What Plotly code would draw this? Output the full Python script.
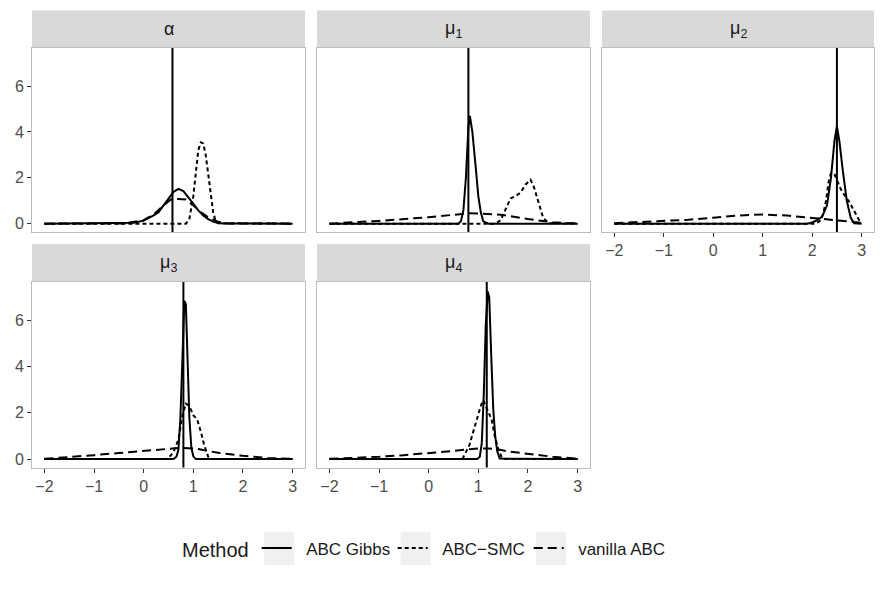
import plotly.graph_objects as go

# ---------------- data ----------------
PANEL_LABELS = ["α", "μ<sub>1</sub>", "μ<sub>2</sub>", "μ<sub>3</sub>", "μ<sub>4</sub>"]
TRUE_VALUES = [0.58, 0.8, 2.5, 0.8, 1.17]
METHODS = ["ABC Gibbs", "ABC\u2212SMC", "vanilla ABC"]
X_TICKS = [-2, -1, 0, 1, 2, 3]
Y_TICKS = [0, 2, 4, 6]

# alpha
alpha_gibbs_x = [-2, -0.4, -0.2, 0.0, 0.1, 0.2, 0.3, 0.4, 0.5, 0.6, 0.7, 0.8, 0.9, 1.0, 1.1, 1.2, 1.3, 1.4, 1.5, 1.6, 3]
alpha_gibbs_y = [0, 0.01, 0.04, 0.13, 0.24, 0.36, 0.5, 0.8, 1.1, 1.38, 1.52, 1.42, 1.15, 0.85, 0.58, 0.36, 0.2, 0.09, 0.03, 0.01, 0]
alpha_smc_x = [-2, 0.85, 0.92, 1.0, 1.05, 1.1, 1.15, 1.2, 1.25, 1.3, 1.35, 1.4, 1.45, 1.5, 3]
alpha_smc_y = [0, 0, 0.2, 1.2, 2.2, 3.2, 3.55, 3.5, 3.0, 2.2, 1.3, 0.5, 0.1, 0.02, 0]
alpha_van_x = [-2, -0.4, 0.0, 0.2, 0.4, 0.55, 0.7, 0.85, 1.0, 1.15, 1.3, 1.5, 1.7, 3]
alpha_van_y = [0, 0.01, 0.15, 0.4, 0.8, 1.05, 1.08, 1.05, 0.8, 0.5, 0.28, 0.08, 0.01, 0]

# mu1
mu1_gibbs_x = [-2, 0.6, 0.65, 0.7, 0.75, 0.8, 0.83, 0.88, 0.95, 1.0, 1.05, 1.1, 1.2, 3]
mu1_gibbs_y = [0, 0, 0.1, 0.6, 2.0, 4.2, 4.7, 4.0, 2.4, 1.2, 0.5, 0.1, 0, 0]
mu1_smc_x = [-2, 1.35, 1.45, 1.55, 1.65, 1.75, 1.85, 1.95, 2.05, 2.12, 2.2, 2.3, 2.4, 3]
mu1_smc_y = [0, 0, 0.15, 0.6, 1.1, 1.2, 1.35, 1.7, 1.92, 1.6, 1.0, 0.3, 0.02, 0]
mu1_van_x = [-2, -1, 0, 0.6, 0.8, 1.0, 1.5, 2.0, 2.5, 3]
mu1_van_y = [0, 0.12, 0.28, 0.42, 0.45, 0.44, 0.38, 0.2, 0.06, 0.01]

# mu2
mu2_gibbs_x = [-2, 1.9, 2.0, 2.1, 2.2, 2.3, 2.38, 2.45, 2.5, 2.55, 2.62, 2.7, 2.78, 2.85, 3]
mu2_gibbs_y = [0, 0, 0.05, 0.15, 0.3, 0.8, 2.0, 3.6, 4.25, 3.6, 2.3, 1.0, 0.25, 0.02, 0]
mu2_smc_x = [-2, 2.05, 2.15, 2.22, 2.28, 2.33, 2.38, 2.45, 2.5, 2.58, 2.65, 2.75, 2.85, 2.95, 3.0]
mu2_smc_y = [0, 0, 0.1, 0.4, 1.0, 1.8, 2.2, 2.15, 1.9, 1.5, 1.25, 0.95, 0.55, 0.15, 0.05]
mu2_van_x = [-2, -1.5, -1, -0.5, 0, 0.5, 1.0, 1.5, 2.0, 2.5, 3]
mu2_van_y = [0.02, 0.06, 0.1, 0.17, 0.26, 0.35, 0.4, 0.35, 0.25, 0.13, 0.04]

# mu3
mu3_gibbs_x = [-2, 0.6, 0.66, 0.7, 0.74, 0.78, 0.82, 0.85, 0.88, 0.92, 0.96, 1.0, 1.05, 3]
mu3_gibbs_y = [0, 0, 0.1, 0.4, 1.8, 4.5, 6.85, 6.7, 4.5, 1.8, 0.5, 0.12, 0, 0]
mu3_smc_x = [-2, 0.45, 0.52, 0.6, 0.7, 0.78, 0.85, 0.92, 1.0, 1.08, 1.15, 1.22, 1.3, 1.38, 3]
mu3_smc_y = [0, 0, 0.1, 0.3, 0.85, 1.9, 2.4, 2.3, 1.9, 1.7, 1.2, 0.6, 0.1, 0, 0]
mu3_van_x = [-2, -1.5, -1, -0.5, 0, 0.5, 0.7, 0.9, 1.1, 1.3, 1.5, 2.0, 2.5, 3]
mu3_van_y = [0.01, 0.08, 0.17, 0.26, 0.34, 0.42, 0.48, 0.47, 0.44, 0.35, 0.27, 0.14, 0.05, 0.01]

# mu4
mu4_gibbs_x = [-2, 0.98, 1.03, 1.07, 1.11, 1.15, 1.19, 1.22, 1.26, 1.3, 1.34, 1.38, 1.43, 3]
mu4_gibbs_y = [0, 0, 0.1, 0.7, 2.8, 5.8, 7.25, 7.0, 4.5, 2.2, 1.0, 0.35, 0.02, 0]
mu4_smc_x = [-2, 0.68, 0.75, 0.82, 0.9, 0.98, 1.05, 1.1, 1.15, 1.2, 1.27, 1.33, 1.4, 1.47, 1.55, 3]
mu4_smc_y = [0, 0, 0.3, 0.6, 1.2, 1.8, 2.3, 2.55, 2.3, 2.0, 1.7, 1.0, 0.45, 0.08, 0, 0]
mu4_van_x = [-2, -1.5, -1, -0.5, 0, 0.5, 0.8, 1.0, 1.2, 1.4, 1.6, 2.0, 2.5, 3]
mu4_van_y = [0.01, 0.05, 0.1, 0.17, 0.25, 0.35, 0.42, 0.46, 0.46, 0.42, 0.33, 0.23, 0.1, 0.02]

PANEL_DATA = [
    [(alpha_gibbs_x, alpha_gibbs_y), (alpha_smc_x, alpha_smc_y), (alpha_van_x, alpha_van_y)],
    [(mu1_gibbs_x, mu1_gibbs_y), (mu1_smc_x, mu1_smc_y), (mu1_van_x, mu1_van_y)],
    [(mu2_gibbs_x, mu2_gibbs_y), (mu2_smc_x, mu2_smc_y), (mu2_van_x, mu2_van_y)],
    [(mu3_gibbs_x, mu3_gibbs_y), (mu3_smc_x, mu3_smc_y), (mu3_van_x, mu3_van_y)],
    [(mu4_gibbs_x, mu4_gibbs_y), (mu4_smc_x, mu4_smc_y), (mu4_van_x, mu4_van_y)],
]

# ---------------- styling / layout ----------------
W, H = 886, 590
DASHES = ["solid", "4px,3px", "9px,5px"]
FONT = "Liberation Sans, Arial, Helvetica, sans-serif"
BORDER = "#bdbdbd"
STRIP = "#d9d9d9"
KEY_BG = "#f0f0f0"

col_px = [(32, 305), (317, 590), (602, 874)]
row_plot_px = [(48, 232), (282, 467.5)]
row_strip_px = [(10.5, 48), (244, 282)]
panel_pos = [(0, 0), (0, 1), (0, 2), (1, 0), (1, 1)]
key_left_px = [264.3, 400.7, 536.0]
key_tb_px = (531.7, 565.0)

fig = go.Figure()
layout = dict(
    width=W, height=H, margin=dict(l=0, r=0, t=0, b=0),
    paper_bgcolor="white", plot_bgcolor="white",
    font=dict(family=FONT, color="#1a1a1a"),
    showlegend=True,
    shapes=[], annotations=[],
)

for i, (r, c) in enumerate(panel_pos):
    n = i + 1
    xa = "x" if n == 1 else f"x{n}"
    ya = "y" if n == 1 else f"y{n}"
    x0, x1 = col_px[c]
    t, b = row_plot_px[r]
    show_x = (n in (3, 4, 5))
    show_y = (c == 0)
    layout[f"xaxis{'' if n == 1 else n}"] = dict(
        domain=[x0 / W, x1 / W], anchor=ya, range=[-2.25, 3.25],
        tickvals=X_TICKS, showticklabels=show_x, ticks="outside" if show_x else "",
        ticklen=4, tickwidth=1, tickcolor="#333333",
        tickfont=dict(size=16, color="#4d4d4d", family=FONT),
        showgrid=False, zeroline=False, showline=True, mirror=True,
        linecolor=BORDER, linewidth=1, fixedrange=True,
    )
    layout[f"yaxis{'' if n == 1 else n}"] = dict(
        domain=[1 - b / H, 1 - t / H], anchor=xa, range=[-0.365, 7.665],
        tickvals=Y_TICKS, showticklabels=show_y, ticks="outside" if show_y else "",
        ticklen=4, tickwidth=1, tickcolor="#333333",
        tickfont=dict(size=16, color="#4d4d4d", family=FONT),
        showgrid=False, zeroline=False, showline=True, mirror=True,
        linecolor=BORDER, linewidth=1, fixedrange=True,
    )
    # strip
    st, sb = row_strip_px[r]
    layout["shapes"].append(dict(
        type="rect", xref="paper", yref="paper",
        x0=x0 / W, x1=x1 / W, y0=1 - sb / H, y1=1 - st / H,
        fillcolor=STRIP, line=dict(width=0), layer="below",
    ))
    layout["annotations"].append(dict(
        text=PANEL_LABELS[i], xref="paper", yref="paper",
        x=(x0 + x1) / 2 / W, y=1 - (st + sb) / 2 / H,
        xanchor="center", yanchor="middle", showarrow=False,
        font=dict(size=18, color="#1a1a1a", family=FONT),
    ))
    # true value line
    layout["shapes"].append(dict(
        type="line", xref=xa, yref=f"{ya} domain",
        x0=TRUE_VALUES[i], x1=TRUE_VALUES[i], y0=0, y1=1,
        line=dict(color="black", width=2),
    ))
    # density curves
    for m, (xs, ys) in enumerate(PANEL_DATA[i]):
        fig.add_trace(go.Scatter(
            x=xs, y=ys, mode="lines", xaxis=xa, yaxis=ya,
            name="\u00a0\u00a0" + METHODS[m], legendgroup=METHODS[m], showlegend=(i == 0),
            line=dict(color="black", width=2, dash=DASHES[m]),
            hoverinfo="skip",
        ))

# legend key backgrounds
for kl in key_left_px:
    layout["shapes"].append(dict(
        type="rect", xref="paper", yref="paper",
        x0=kl / W, x1=(kl + 30) / W, y0=1 - key_tb_px[1] / H, y1=1 - key_tb_px[0] / H,
        fillcolor=KEY_BG, line=dict(width=0), layer="below",
    ))

layout["legend"] = dict(
    orientation="h", x=180 / W, xanchor="left", y=1 - 548.5 / H, yanchor="middle",
    title=dict(text="Method", side="left", font=dict(size=20, color="#1a1a1a", family=FONT)),
    font=dict(size=17, color="#1a1a1a", family=FONT),
    bgcolor="rgba(0,0,0,0)", itemwidth=30, tracegroupgap=0,
    entrywidth=91, entrywidthmode="pixels",
)

fig.update_layout(**layout)
fig.write_html("out.html")
